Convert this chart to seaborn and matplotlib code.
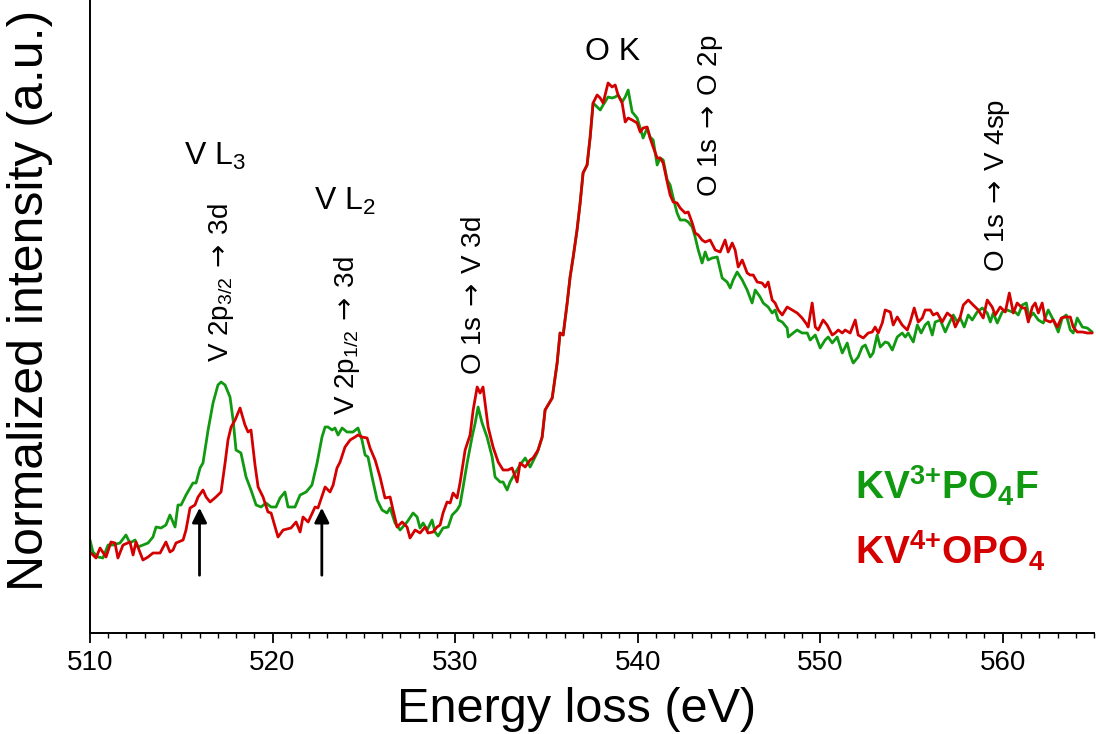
import matplotlib
matplotlib.use("Agg")
import matplotlib.pyplot as plt
from matplotlib.ticker import MultipleLocator
import seaborn as sns

# KV(3+)PO4F spectrum (green)
green_energy = [
    510.00, 510.16, 510.44, 510.71, 510.99, 511.26, 511.64, 511.97, 512.19, 512.47,
    512.63, 512.90, 513.18, 513.45, 513.62, 513.89, 514.16, 514.38, 514.66, 514.82,
    514.99, 515.26, 515.64, 515.81, 516.03, 516.19, 516.47, 516.74, 517.01, 517.18,
    517.40, 517.67, 517.84, 518.00, 518.27, 518.55, 518.82, 519.10, 519.37, 519.64,
    519.92, 520.19, 520.41, 520.68, 520.85, 521.23, 521.51, 521.84, 522.16, 522.44,
    522.71, 522.88, 523.04, 523.26, 523.42, 523.59, 523.81, 524.08, 524.41, 524.68,
    524.90, 525.07, 525.23, 525.45, 525.73, 526.00, 526.27, 526.44, 526.71, 526.99,
    527.37, 527.70, 527.92, 528.08, 528.25, 528.47, 528.74, 528.90, 529.07, 529.34,
    529.62, 529.84, 530.11, 530.27, 530.44, 530.66, 530.93, 531.10, 531.26, 531.48,
    531.75, 532.03, 532.19, 532.47, 532.63, 532.85, 533.01, 533.29, 533.56, 533.84,
    534.11, 534.49, 534.77, 534.93, 535.32, 535.59, 535.75, 535.92, 536.14, 536.30,
    536.47, 536.68, 536.85, 537.01, 537.23, 537.40, 537.56, 537.78, 537.95, 538.11,
    538.38, 538.60, 538.77, 538.93, 539.15, 539.32, 539.48, 539.70, 539.97, 540.14,
    540.30, 540.52, 540.68, 540.85, 541.07, 541.23, 541.40, 541.62, 541.78, 541.95,
    542.16, 542.33, 542.60, 542.77, 542.99, 543.15, 543.32, 543.53, 543.70, 543.86,
    544.08, 544.36, 544.63, 544.90, 545.07, 545.23, 545.45, 545.73, 546.00, 546.27,
    546.44, 546.71, 546.88, 547.15, 547.37, 547.53, 547.70, 547.92, 548.19, 548.25,
    548.52, 548.74, 549.01, 549.29, 549.45, 549.73, 550.00, 550.27, 550.44, 550.66,
    550.93, 551.21, 551.48, 551.64, 551.81, 552.08, 552.30, 552.47, 552.74, 552.90,
    553.12, 553.29, 553.56, 553.73, 553.95, 554.22, 554.49, 554.66, 554.82, 555.10,
    555.32, 555.53, 555.75, 555.92, 556.14, 556.30, 556.58, 556.85, 557.07, 557.29,
    557.51, 557.67, 557.89, 558.11, 558.33, 558.60, 558.88, 559.15, 559.32, 559.48,
    559.70, 559.97, 560.25, 560.52, 560.68, 560.85, 561.07, 561.29, 561.45, 561.67,
    561.95, 562.22, 562.49, 562.77, 563.04, 563.26, 563.48, 563.70, 563.86, 564.08,
    564.36, 564.63, 564.90,
]
green_intensity = [
    93, 81, 76, 75, 88, 88, 90, 98, 90, 93,
    86, 88, 90, 96, 106, 105, 108, 118, 106, 128,
    128, 138, 150, 150, 165, 170, 203, 230, 248, 251,
    248, 236, 213, 183, 180, 156, 143, 128, 126, 130,
    126, 126, 135, 141, 126, 126, 138, 141, 148, 170,
    196, 206, 206, 203, 205, 198, 205, 201, 201, 205,
    193, 178, 176, 156, 133, 123, 120, 125, 110, 103,
    111, 120, 116, 105, 110, 103, 113, 101, 97, 105,
    106, 118, 123, 128, 146, 170, 196, 210, 226, 210,
    196, 176, 156, 151, 151, 143, 151, 160, 168, 175,
    166, 180, 196, 223, 235, 270, 300, 298, 330, 356,
    376, 403, 430, 460, 468, 496, 530, 526, 523, 528,
    536, 535, 536, 538, 531, 536, 543, 521, 515, 505,
    495, 505, 496, 493, 468, 475, 473, 453, 448, 435,
    420, 413, 413, 411, 406, 396, 383, 370, 381, 373,
    375, 376, 355, 351, 345, 353, 361, 353, 343, 330,
    343, 336, 330, 326, 320, 323, 313, 311, 305, 296,
    300, 303, 300, 300, 293, 298, 285, 293, 296, 290,
    296, 280, 290, 278, 270, 276, 286, 288, 276, 280,
    298, 286, 291, 290, 283, 296, 300, 296, 300, 291,
    308, 300, 308, 311, 298, 311, 313, 301, 310, 318,
    311, 315, 306, 318, 313, 321, 325, 320, 311, 320,
    310, 321, 323, 321, 321, 318, 328, 330, 315, 320,
    313, 310, 323, 313, 301, 315, 318, 303, 300, 315,
    306, 305, 301,
]

# KV(4+)OPO4 spectrum (red)
red_energy = [
    510.00, 510.33, 510.55, 510.88, 511.15, 511.37, 511.53, 511.81, 512.19, 512.36,
    512.52, 512.90, 513.18, 513.45, 513.84, 514.16, 514.38, 514.55, 514.71, 515.10,
    515.26, 515.48, 515.75, 515.92, 516.19, 516.36, 516.58, 516.90, 517.18, 517.40,
    517.56, 517.73, 517.95, 518.22, 518.49, 518.66, 518.82, 519.04, 519.21, 519.48,
    519.75, 519.92, 520.30, 520.58, 521.01, 521.29, 521.51, 521.67, 521.95, 522.33,
    522.49, 522.88, 523.15, 523.32, 523.53, 523.70, 523.97, 524.25, 524.52, 524.68,
    524.90, 525.18, 525.34, 525.62, 525.89, 526.16, 526.44, 526.60, 526.82, 527.10,
    527.37, 527.53, 527.81, 528.08, 528.36, 528.52, 528.79, 529.01, 529.18, 529.34,
    529.56, 529.73, 529.89, 530.11, 530.27, 530.55, 530.82, 530.99, 531.21, 531.37,
    531.53, 531.81, 532.08, 532.36, 532.63, 532.90, 533.12, 533.40, 533.56, 533.84,
    534.11, 534.27, 534.55, 534.77, 534.93, 535.32, 535.59, 535.75, 535.92, 536.14,
    536.30, 536.47, 536.68, 536.85, 537.01, 537.23, 537.40, 537.56, 537.78, 537.95,
    538.11, 538.38, 538.60, 538.77, 538.93, 539.15, 539.32, 539.48, 539.70, 539.97,
    540.14, 540.30, 540.52, 540.68, 540.85, 541.07, 541.23, 541.40, 541.62, 541.78,
    541.95, 542.16, 542.33, 542.60, 542.77, 542.99, 543.15, 543.32, 543.53, 543.70,
    543.97, 544.25, 544.52, 544.79, 544.96, 545.18, 545.34, 545.51, 545.73, 546.00,
    546.16, 546.33, 546.55, 546.82, 546.99, 547.15, 547.37, 547.53, 547.70, 547.92,
    548.19, 548.47, 548.74, 549.01, 549.29, 549.34, 549.56, 549.73, 549.89, 550.16,
    550.38, 550.66, 550.82, 550.99, 551.21, 551.37, 551.64, 551.92, 552.08, 552.36,
    552.63, 552.85, 553.01, 553.18, 553.40, 553.56, 553.84, 554.00, 554.22, 554.49,
    554.77, 554.93, 555.15, 555.37, 555.59, 555.75, 556.03, 556.19, 556.41, 556.68,
    556.96, 557.23, 557.40, 557.67, 557.84, 558.11, 558.38, 558.66, 558.93, 559.15,
    559.42, 559.59, 559.86, 560.14, 560.36, 560.58, 560.79, 561.07, 561.23, 561.40,
    561.62, 561.78, 561.95, 562.16, 562.33, 562.60, 562.77, 562.99, 563.21, 563.42,
    563.70, 563.86, 564.08, 564.36, 564.63, 564.90,
]
red_intensity = [
    81, 75, 85, 76, 91, 90, 75, 88, 91, 78,
    91, 73, 76, 80, 80, 91, 81, 83, 90, 93,
    103, 125, 128, 136, 143, 136, 131, 136, 141, 170,
    193, 206, 213, 225, 208, 201, 203, 168, 146, 136,
    121, 120, 96, 103, 105, 111, 101, 116, 111, 126,
    125, 146, 141, 148, 165, 171, 186, 193, 196, 198,
    196, 195, 185, 173, 156, 135, 136, 123, 106, 111,
    106, 95, 103, 100, 106, 100, 101, 106, 108, 120,
    131, 130, 140, 135, 150, 183, 198, 223, 246, 240,
    246, 206, 186, 171, 163, 163, 165, 151, 170, 166,
    173, 175, 183, 196, 223, 235, 270, 300, 298, 330,
    356, 376, 403, 430, 460, 468, 496, 530, 538, 535,
    530, 550, 546, 548, 538, 530, 511, 515, 513, 510,
    501, 505, 506, 495, 486, 475, 475, 470, 451, 438,
    431, 430, 425, 420, 421, 410, 400, 398, 393, 391,
    393, 383, 381, 393, 381, 390, 383, 366, 373, 360,
    358, 358, 351, 350, 346, 351, 333, 330, 323, 318,
    326, 323, 320, 315, 308, 306, 330, 306, 303, 313,
    308, 298, 300, 303, 300, 303, 300, 313, 298, 295,
    300, 301, 306, 300, 310, 323, 321, 308, 316, 308,
    303, 311, 325, 311, 315, 323, 323, 318, 320, 311,
    320, 316, 306, 316, 328, 333, 328, 323, 315, 333,
    326, 318, 326, 321, 340, 320, 330, 325, 325, 311,
    326, 330, 320, 330, 313, 311, 313, 306, 315, 316,
    316, 306, 301, 301, 300, 300,
]

green = "#119911"
red = "#d40000"

sns.set_style("ticks")
plt.rcParams["font.family"] = ["Liberation Sans", "DejaVu Sans"]
plt.rcParams["mathtext.fontset"] = "custom"
plt.rcParams["mathtext.rm"] = "Liberation Sans"
plt.rcParams["mathtext.it"] = "Liberation Sans:italic"
plt.rcParams["mathtext.bf"] = "Liberation Sans:bold"
plt.rcParams["mathtext.sf"] = "DejaVu Sans"
plt.rcParams["text.color"] = "black"
plt.rcParams["axes.labelcolor"] = "black"
plt.rcParams["xtick.color"] = "black"
plt.rcParams["xtick.labelcolor"] = "black"

fig = plt.figure(figsize=(10.96, 7.34), dpi=100)
ax = fig.add_axes([0.0821, 0.1376, 0.9161, 0.8624])

sns.lineplot(x=green_energy, y=green_intensity, color=green, lw=2.0, ax=ax, errorbar=None)
sns.lineplot(x=red_energy, y=red_intensity, color=red, lw=2.0, ax=ax, errorbar=None)

ax.set_xlim(510, 565)
ax.set_ylim(0, 633)
ax.set_yticks([])
ax.xaxis.set_major_locator(MultipleLocator(10))
ax.xaxis.set_minor_locator(MultipleLocator(1))
ax.tick_params(axis="x", which="major", length=7, width=1.3, labelsize=20, pad=5, direction="out")
ax.tick_params(axis="x", which="minor", length=3.5, width=1.0, direction="out", bottom=True)
sns.despine(ax=ax)
for s in ["left", "bottom"]:
    ax.spines[s].set_linewidth(1.4)
    ax.spines[s].set_color("black")

ax.set_xlabel("Energy loss (eV)", fontsize=35)
ax.xaxis.set_label_coords(0.485, -0.085)
ax.set_ylabel("Normalized intensity (a.u.)", fontsize=36)
ax.yaxis.set_label_coords(-0.037, 0.525)

arrow = r"$\:\mathsf{\rightarrow}\:$"

# peak labels
ax.text(516.85, 468, r"V L$_{\mathrm{3}}$", fontsize=23, ha="center", va="baseline")
ax.text(523.97, 423, r"V L$_{\mathrm{2}}$", fontsize=23, ha="center", va="baseline")
ax.text(538.6, 573, "O K", fontsize=23, ha="center", va="baseline")

ax.text(517.18, 271, r"V 2p$_{\mathrm{3/2}}$" + arrow + "3d", fontsize=20, rotation=90, ha="center", va="bottom")
ax.text(524.08, 218, r"V 2p$_{\mathrm{1/2}}$" + arrow + "3d", fontsize=20, rotation=90, ha="center", va="bottom")
ax.text(531.04, 258, "O 1s" + arrow + "V 3d", fontsize=20, rotation=90, ha="center", va="bottom")
ax.text(543.97, 436, "O 1s" + arrow + "O 2p", fontsize=20, rotation=90, ha="center", va="bottom")
ax.text(559.70, 361, "O 1s" + arrow + "V 4sp", fontsize=20, rotation=90, ha="center", va="bottom")

# arrows marking the pre-edge shoulders
for e in [516.0, 522.7]:
    ax.annotate("", xy=(e, 128), xytext=(e, 55),
                arrowprops=dict(arrowstyle="-|>", color="black", lw=2, mutation_scale=22))

# sample labels
ax.text(551.9, 133, r"KV$^{\mathbf{3{+}}}$PO$_{\mathbf{4}}$F", color=green, fontsize=28,
        fontweight="bold", ha="left", va="baseline")
ax.text(551.9, 68, r"KV$^{\mathbf{4{+}}}$OPO$_{\mathbf{4}}$", color=red, fontsize=28,
        fontweight="bold", ha="left", va="baseline")

fig.savefig("out.png", dpi=100)
